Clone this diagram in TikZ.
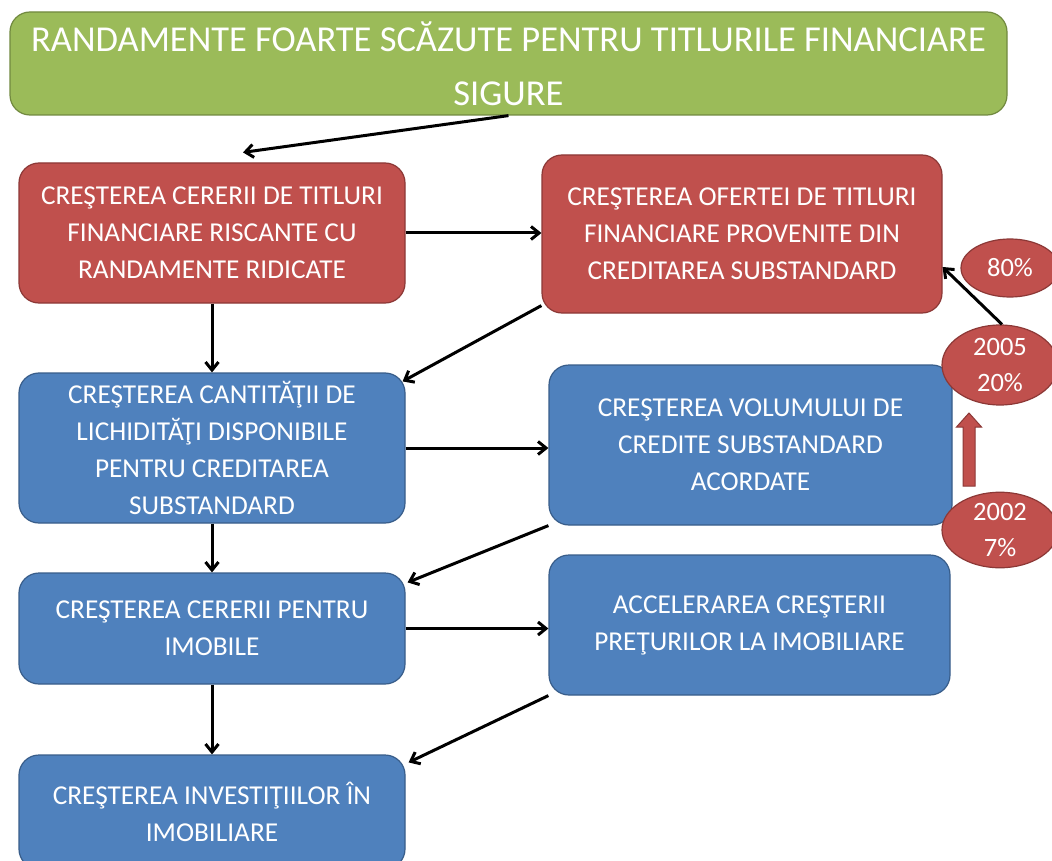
\documentclass[tikz,border=0pt]{standalone}
\usepackage{fontspec}
\setmainfont{Carlito}
\usetikzlibrary{arrows.meta,shapes.geometric,calc}
\definecolor{gfill}{HTML}{9BBB59}
\definecolor{gline}{HTML}{71893F}
\definecolor{rfill}{HTML}{C0504D}
\definecolor{rline}{HTML}{8C3836}
\definecolor{bfill}{HTML}{4F81BD}
\definecolor{bline}{HTML}{385D8A}
\begin{document}
\begin{tikzpicture}[x=1pt,y=-1pt,
  box/.style={rectangle, rounded corners=20pt, draw, line width=1.2pt, text=white,
    align=center, inner sep=0pt, font=\fontsize{27.3}{37}\selectfont},
  titlebox/.style={box, fill=gfill, draw=gline, font=\fontsize{36.5}{54}\selectfont},
  redbox/.style={box, fill=rfill, draw=rline},
  bluebox/.style={box, fill=bfill, draw=bline},
  oval/.style={ellipse, fill=rfill, draw=rline, line width=1.2pt, text=white,
    align=center, inner sep=0pt, font=\fontsize{26.5}{36}\selectfont},
  conn/.style={line width=3pt, -{Straight Barb[length=8pt,width=13pt]}},
  blockarrow/.style={fill=rfill, draw=rline, line width=1pt},
]
\useasboundingbox (0,0) rectangle (1052,861);
\clip (0,0) rectangle (1052,861);
\fill[white] (0,0) rectangle (1052,861);

\node[titlebox, minimum width=997pt, minimum height=103pt] (title) at (508.5,63.5)
  {RANDAMENTE FOARTE SCĂZUTE PENTRU TITLURILE FINANCIARE\\SIGURE};

\node[redbox, minimum width=386pt, minimum height=140pt] (r1) at (212,233)
  {CREŞTEREA CERERII DE TITLURI\\FINANCIARE RISCANTE CU\\RANDAMENTE RIDICATE};
\node[redbox, minimum width=400pt, minimum height=158pt] (r2) at (742,234)
  {CREŞTEREA OFERTEI DE TITLURI\\FINANCIARE PROVENITE DIN\\CREDITAREA SUBSTANDARD};

\node[bluebox, minimum width=386pt, minimum height=150pt] (b1) at (212,448)
  {CREŞTEREA CANTITĂŢII DE\\LICHIDITĂŢI DISPONIBILE\\PENTRU CREDITAREA\\SUBSTANDARD};
\node[bluebox, minimum width=403pt, minimum height=160pt] (b2) at (750.5,445)
  {CREŞTEREA VOLUMULUI DE\\CREDITE SUBSTANDARD\\ACORDATE};
\node[bluebox, minimum width=386pt, minimum height=111pt] (b3) at (212,628.5)
  {CREŞTEREA CERERII PENTRU\\IMOBILE};
\node[bluebox, minimum width=401pt, minimum height=140pt] (b4) at (749.5,625)
  {ACCELERAREA CREŞTERII\\PREŢURILOR LA IMOBILIARE};
\node[bluebox, minimum width=386pt, minimum height=114pt] (b5) at (212,812)
  {CREŞTEREA INVESTIŢIILOR ÎN\\IMOBILIARE};

\node[oval, minimum width=98pt, minimum height=58pt] (e80) at (1010,268) {80\%};
\node[oval, minimum width=116pt, minimum height=80pt] (e05) at (1000,365) {2005\\20\%};
\node[oval, minimum width=116pt, minimum height=72pt] (e02) at (1000,530) {2002\\7\%};

\coordinate (ubot) at (969,486);
\coordinate (utop) at (969,413);
\draw[blockarrow] ([xshift=-6pt]ubot) -- ([xshift=-6pt]ubot |- 0,427) -- ([xshift=-12.5pt]utop |- 0,427)
  -- (utop) -- ([xshift=12.5pt]utop |- 0,427) -- ([xshift=6pt]ubot |- 0,427) -- ([xshift=6pt]ubot) -- cycle;

\draw[conn] (title.south) -- ([xshift=31pt,yshift=10pt]r1.north);
\draw[conn] (r1.east) -- (r1.east -| r2.west);
\draw[conn] (r1.south) -- (b1.north);
\draw[conn] ([yshift=8pt]r2.south west) -- ([xshift=-3pt,yshift=-9pt]b1.north east);
\draw[conn] (b1.east) -- (b1.east -| b2.west);
\draw[conn] (b1.south) -- (b3.north);
\draw[conn] (b2.south west) -- ([xshift=2pt,yshift=-10pt]b3.north east);
\draw[conn] (b3.east) -- (b3.east -| b4.west);
\draw[conn] (b3.south) -- (b5.north);
\draw[conn] (b4.south west) -- ([xshift=3pt,yshift=-8pt]b5.north east);
\draw[conn] ([xshift=2pt]e05.north) -- ([yshift=-33pt]r2.east);
\end{tikzpicture}
\end{document}
